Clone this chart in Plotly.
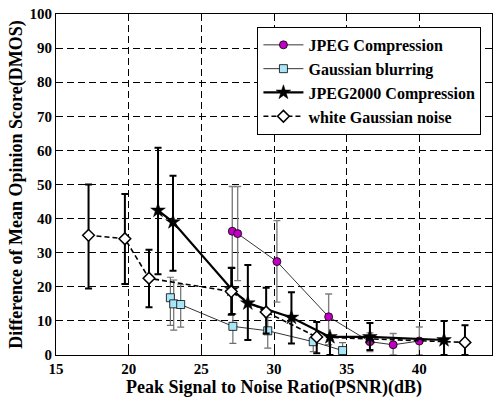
import plotly.graph_objects as go

# JPEG Compression
jpeg_x = [27.13, 27.5, 30.2, 33.76, 36.6, 38.2, 40.0]
jpeg_y = [36.3, 35.6, 27.4, 11.2, 3.9, 3.0, 4.1]
jpeg_lo = [12.0, 21.8, 15.5, 3.0, 1.0, 0.0, 0.0]
jpeg_hi = [49.4, 49.4, 39.4, 17.9, 6.5, 6.3, 8.2]

# Gaussian blurring
blur_x = [22.87, 23.1, 23.58, 27.17, 29.57, 32.7, 34.72]
blur_y = [16.8, 15.0, 14.8, 8.4, 7.1, 3.9, 1.3]
blur_lo = [8.7, 7.3, 8.2, 3.4, 2.0, 1.0, 0.0]
blur_hi = [22.8, 22.0, 20.6, 12.0, 11.0, 6.0, 3.6]

# JPEG2000 Compression
j2k_x = [22.02, 23.05, 27.1, 28.2, 31.2, 33.85, 36.6, 41.7]
j2k_y = [42.4, 39.0, 19.2, 15.2, 11.0, 5.3, 5.3, 4.4]
j2k_lo = [23.7, 24.7, 12.0, 4.4, 3.4, 0.0, 1.5, 0.0]
j2k_hi = [60.8, 52.6, 25.5, 26.4, 18.4, 5.6, 9.4, 10.0]

# white Gaussian noise
wgn_x = [17.24, 19.74, 21.4, 27.06, 29.46, 32.94, 43.14]
wgn_y = [35.1, 34.1, 22.5, 18.6, 12.6, 5.3, 3.7]
wgn_lo = [19.5, 20.8, 14.0, 11.8, 6.3, 0.5, 0.0]
wgn_hi = [50.0, 47.2, 30.9, 25.6, 19.7, 9.7, 8.7]

x_ticks = [15, 20, 25, 30, 35, 40, 45]
y_ticks = [0, 10, 20, 30, 40, 50, 60, 70, 80, 90, 100]

FONT = "Liberation Serif"


def err(y, lo, hi, color, thick):
    return dict(type="data", symmetric=False,
                array=[h - v for v, h in zip(y, hi)],
                arrayminus=[v - l for v, l in zip(y, lo)],
                color=color, thickness=thick, width=3.5)


fig = go.Figure()
fig.add_trace(go.Scatter(
    x=jpeg_x, y=jpeg_y, name="JPEG Compression", mode="lines+markers",
    line=dict(color="black", width=0.8),
    marker=dict(symbol="circle", size=8, color="#C000C0",
                line=dict(color="black", width=0.8)),
    error_y=err(jpeg_y, jpeg_lo, jpeg_hi, "#7f7f7f", 1.4)))
fig.add_trace(go.Scatter(
    x=blur_x, y=blur_y, name="Gaussian blurring", mode="lines+markers",
    line=dict(color="black", width=0.8),
    marker=dict(symbol="square", size=8, color="#A8E6F8",
                line=dict(color="black", width=0.8)),
    error_y=err(blur_y, blur_lo, blur_hi, "#6f6f6f", 1.2)))
fig.add_trace(go.Scatter(
    x=j2k_x, y=j2k_y, name="JPEG2000 Compression", mode="lines+markers",
    line=dict(color="black", width=2.2),
    marker=dict(symbol="star", size=11, color="black",
                line=dict(color="black", width=0.5)),
    error_y=err(j2k_y, j2k_lo, j2k_hi, "black", 2)))
fig.add_trace(go.Scatter(
    x=wgn_x, y=wgn_y, name="white Gaussian noise", mode="lines+markers",
    line=dict(color="black", width=1.6, dash="5px,3px"),
    marker=dict(symbol="diamond", size=9, color="white",
                line=dict(color="black", width=1.5)),
    error_y=err(wgn_y, wgn_lo, wgn_hi, "black", 2)))

axis_common = dict(
    showline=True, linecolor="black", linewidth=1.2, mirror="ticks",
    ticks="inside", ticklen=5, tickcolor="black",
    showgrid=True, gridcolor="black", gridwidth=1, griddash="7px,4px",
    zeroline=False,
    tickfont=dict(family=FONT, size=15, color="black", weight="bold"),
)

fig.update_layout(
    width=499, height=398,
    margin=dict(l=56, r=6, t=11, b=43),
    paper_bgcolor="white", plot_bgcolor="white",
    font=dict(family=FONT, color="black"),
    showlegend=True,
    legend=dict(x=0.462, y=0.962, xanchor="left", yanchor="top",
                bgcolor="white", bordercolor="black", borderwidth=1,
                font=dict(family=FONT, size=16, color="black", weight="bold"),
                tracegroupgap=0, itemwidth=40),
    xaxis=dict(range=[15, 45], tickvals=x_ticks,
               title=dict(text="Peak Signal to Noise Ratio(PSNR)(dB)",
                          font=dict(family=FONT, size=18, color="black", weight="bold"),
                          standoff=0),
               **axis_common),
    yaxis=dict(range=[0, 100], tickvals=y_ticks,
               title=dict(text="Difference of Mean Opinion Score(DMOS)",
                          font=dict(family=FONT, size=18, color="black", weight="bold"),
                          standoff=2),
               **axis_common),
)

fig.write_html("out.html")
